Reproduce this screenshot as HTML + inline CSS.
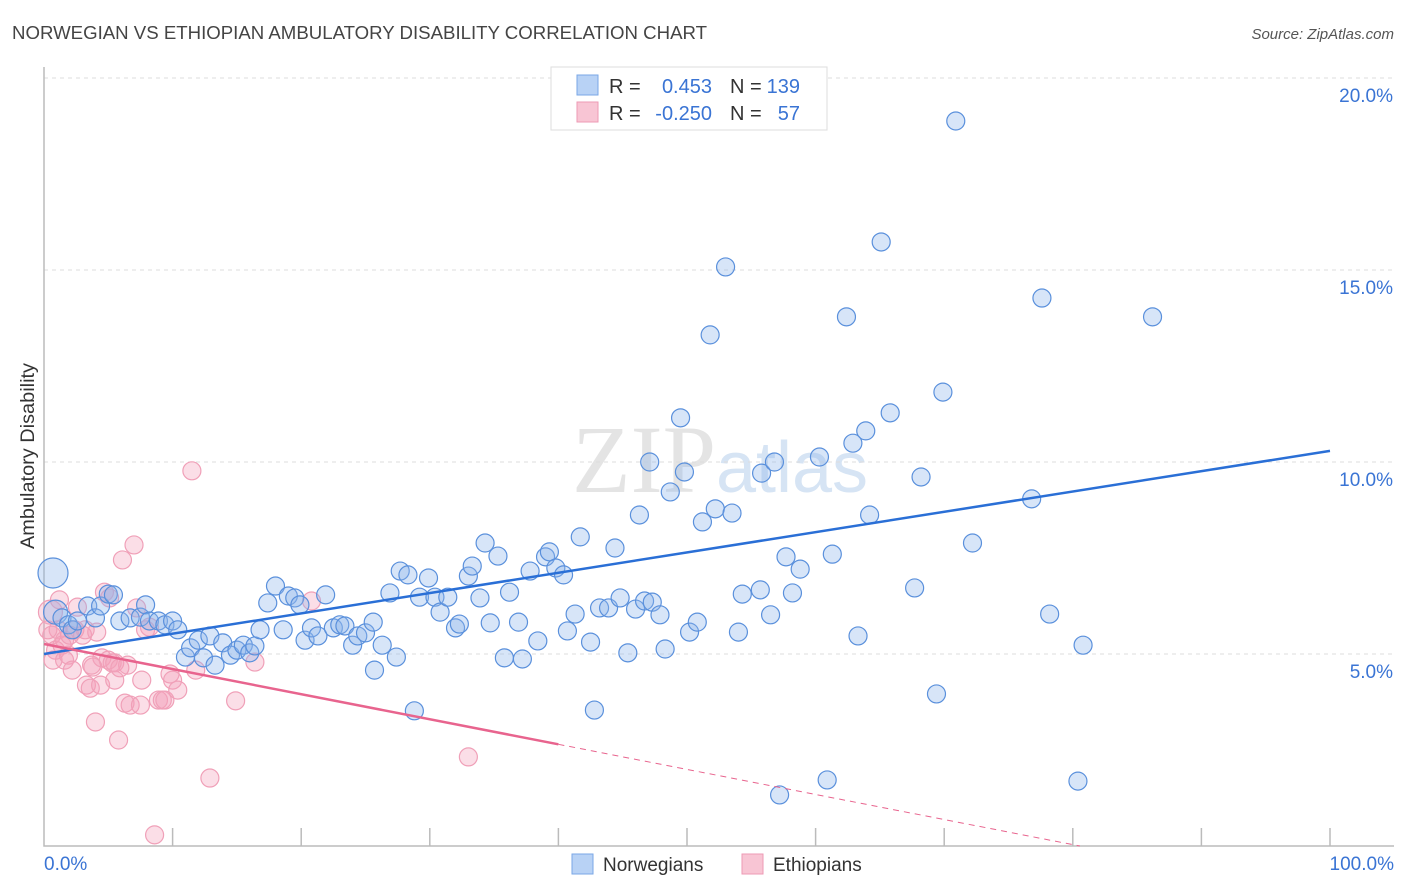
<!DOCTYPE html>
<html><head><meta charset="utf-8"><style>
body{margin:0;background:#fff;font-family:"Liberation Sans",sans-serif;}
svg{display:block}
</style></head><body>
<svg id="chart" width="1406" height="892" viewBox="0 0 1406 892" xmlns="http://www.w3.org/2000/svg">
<text x="12" y="39" font-size="18" fill="#444" textLength="695" lengthAdjust="spacingAndGlyphs">NORWEGIAN VS ETHIOPIAN AMBULATORY DISABILITY CORRELATION CHART</text>
<text x="1394" y="39" font-size="15" fill="#555" text-anchor="end" font-style="italic">Source: ZipAtlas.com</text>
<text x="720" y="492" font-size="96" fill="#e4e4e4" text-anchor="middle" font-family="Liberation Serif"><tspan>ZIP</tspan><tspan fill="#d6e4f4" font-family="Liberation Sans" font-size="72">atlas</tspan></text>
<text transform="translate(34,456) rotate(-90)" font-size="19" fill="#333" text-anchor="middle" textLength="186" lengthAdjust="spacingAndGlyphs">Ambulatory Disability</text>
<g id="grid"></g><g id="axes"></g><g id="marks"></g>
<g>
<rect x="551" y="67" width="276" height="63" fill="#fff" stroke="#ddd"/>
<rect x="577" y="75" width="21" height="20" fill="#b8d2f5" stroke="#7aa7e6"/>
<rect x="577" y="102" width="21" height="20" fill="#f8c5d4" stroke="#ee9ab4"/>
<text x="609" y="93" font-size="20" fill="#333">R =</text>
<text x="712" y="93" font-size="20" fill="#3a74d4" text-anchor="end">0.453</text>
<text x="730" y="93" font-size="20" fill="#333">N =</text>
<text x="800" y="93" font-size="20" fill="#3a74d4" text-anchor="end">139</text>
<text x="609" y="120" font-size="20" fill="#333">R =</text>
<text x="712" y="120" font-size="20" fill="#3a74d4" text-anchor="end">-0.250</text>
<text x="730" y="120" font-size="20" fill="#333">N =</text>
<text x="800" y="120" font-size="20" fill="#3a74d4" text-anchor="end">57</text>
</g>
<g>
<rect x="572" y="854" width="21" height="20" fill="#b8d2f5" stroke="#7aa7e6"/>
<text x="603" y="871" font-size="19" fill="#333">Norwegians</text>
<rect x="742" y="854" width="21" height="20" fill="#f8c5d4" stroke="#ee9ab4"/>
<text x="773" y="871" font-size="19" fill="#333">Ethiopians</text>
</g>
</svg>
<script>
const blueX=[0.7,0.9,1.4,1.9,2.2,2.6,3.4,4.0,4.4,5.0,5.4,5.9,6.7,7.5,7.9,8.2,8.9,9.4,10.0,10.4,11.0,11.4,12.0,12.4,12.9,13.3,13.9,14.5,15.0,15.5,16.0,16.4,16.8,17.4,18.0,18.6,19.0,19.5,19.9,20.3,20.8,21.3,21.9,22.5,23.0,23.4,24.0,24.4,25.0,25.6,25.7,26.3,26.9,27.4,27.7,28.3,28.8,29.2,29.9,30.4,30.8,31.4,32.0,32.3,33.0,33.3,33.9,34.3,34.7,35.3,35.8,36.2,36.9,37.2,37.8,38.4,39.0,39.3,39.8,40.4,40.7,41.3,41.7,42.5,42.8,43.2,43.9,44.4,44.8,45.4,46.0,46.3,46.7,47.1,47.3,47.9,48.3,48.7,49.5,49.8,50.2,50.8,51.2,51.8,52.2,53.0,53.5,54.0,54.3,55.7,55.8,56.5,56.8,57.2,57.7,58.2,58.8,60.3,60.9,61.3,62.4,62.9,63.3,63.9,64.2,65.1,65.8,67.7,68.2,69.4,69.9,70.9,72.2,76.8,77.6,78.2,80.4,80.8,86.2];
const blueY=[7.11,6.09,5.94,5.76,5.63,5.86,6.25,5.94,6.25,6.56,6.54,5.86,5.94,5.96,6.28,5.86,5.86,5.76,5.86,5.63,4.92,5.16,5.36,4.90,5.47,4.71,5.29,4.97,5.10,5.23,5.03,5.21,5.63,6.33,6.77,5.63,6.51,6.46,6.28,5.36,5.68,5.47,6.54,5.68,5.76,5.73,5.23,5.47,5.55,5.83,4.58,5.23,6.59,4.92,7.16,7.06,3.52,6.48,6.98,6.48,6.09,6.48,5.68,5.78,7.03,7.29,6.46,7.89,5.81,7.55,4.90,6.61,5.83,4.87,7.16,5.34,7.53,7.66,7.24,7.06,5.60,6.04,8.05,5.31,3.54,6.20,6.20,7.76,6.46,5.03,6.17,8.62,6.38,10.00,6.35,6.02,5.13,9.22,11.15,9.74,5.57,5.83,8.44,13.31,8.78,15.08,8.67,5.57,6.56,6.67,9.71,6.02,10.00,1.33,7.53,6.59,7.21,10.13,1.72,7.60,13.78,10.49,5.47,10.81,8.62,15.73,11.28,6.72,9.61,3.96,11.82,18.88,7.89,9.04,14.27,6.04,1.69,5.23,13.78];
const pinkX=[0.5,0.6,0.9,1.1,1.4,1.6,1.9,2.2,2.4,2.6,3.0,3.3,3.6,3.8,4.0,4.1,4.4,4.5,4.7,5.0,5.1,5.3,5.5,5.8,6.1,6.3,6.5,6.7,7.0,7.2,7.5,7.6,7.9,8.2,8.6,8.9,9.2,9.4,9.8,10.0,10.4,11.5,11.8,12.9,14.9,16.4,20.8,33.0,0.3,0.7,1.2,1.6,2.0,3.2,3.7,5.5,5.9];
const pinkY=[6.09,5.49,5.10,5.63,5.23,4.84,4.97,4.58,5.63,6.22,5.49,4.19,4.11,4.66,3.23,5.57,4.19,4.90,6.61,4.84,6.46,4.77,4.77,2.76,7.45,3.72,4.71,3.67,7.84,6.20,3.67,4.32,5.63,5.70,0.29,3.80,3.80,3.80,4.48,4.32,4.06,9.77,4.58,1.77,3.78,4.79,6.38,2.32,5.63,4.84,6.41,5.36,5.49,5.63,4.71,4.32,4.64];
const yTicks=[5,10,15,20];
const xTickLabels=["0.0%","100.0%"];
const blueTrend=[5.0,10.29];
const pinkTrend=[5.26,-0.0653];

const NS="http://www.w3.org/2000/svg";
const X=v=>44+v*12.86, Y=v=>846-v*38.4;
function mk(t,a,p){const e=document.createElementNS(NS,t);for(const k in a)e.setAttribute(k,a[k]);p.appendChild(e);return e;}
const grid=document.getElementById('grid'),axes=document.getElementById('axes'),marks=document.getElementById('marks');
yTicks.forEach(t=>{
 const l=mk('line',{x1:44,x2:1394,y1:Y(t),y2:Y(t),stroke:'#ddd','stroke-dasharray':'4,4'},grid);
 
 
 const tx=mk('text',{x:1393,y:Y(t)+24,'font-size':19,fill:'#3a74d4','text-anchor':'end'},axes);
 tx.textContent=t.toFixed(1)+'%';
 
 
});
const ax=mk('path',{d:'M44,67V846H1394',fill:'none',stroke:'#bbb','stroke-width':1.5},axes);


for(let i=1;i<=10;i++){
 const t=mk('line',{x1:X(i*10),x2:X(i*10),y1:828,y2:846,stroke:'#bbb','stroke-width':1.5},axes);
 
 
}
[[0,'start',44],[100,'end',1394]].forEach((d,i)=>{
 const t=mk('text',{x:d[2],y:870,'font-size':19,fill:'#3a74d4','text-anchor':d[1]},axes);
 t.textContent=xTickLabels[i];
 
 
});
pinkX.forEach((x,i)=>{
 const r=i===0?12:9;
 const c=mk('circle',{cx:X(x),cy:Y(pinkY[i]),r:r,fill:'rgba(244,160,185,0.35)',stroke:'#f0a0b8','stroke-width':1.2},marks);
 
 
});
blueX.forEach((x,i)=>{
 const r=i===0?15:(i===1?12:9);
 const c=mk('circle',{cx:X(x),cy:Y(blueY[i]),r:r,fill:'rgba(140,180,235,0.35)',stroke:'#5a90dc','stroke-width':1.2},marks);
 
 
});
const bl=mk('line',{x1:X(0),y1:Y(blueTrend[0]),x2:X(100),y2:Y(blueTrend[1]),stroke:'#2a6fd6','stroke-width':2.5},marks);


const pf=x=>pinkTrend[0]+pinkTrend[1]*x;
const pl=mk('line',{x1:X(0),y1:Y(pf(0)),x2:X(40),y2:Y(pf(40)),stroke:'#e8648e','stroke-width':2.5},marks);


const xe=-pinkTrend[0]/pinkTrend[1];
const pd=mk('line',{x1:X(40),y1:Y(pf(40)),x2:X(xe),y2:Y(0),stroke:'#e8648e','stroke-width':1,'stroke-dasharray':'6,5'},marks);


</script>
</body></html>
